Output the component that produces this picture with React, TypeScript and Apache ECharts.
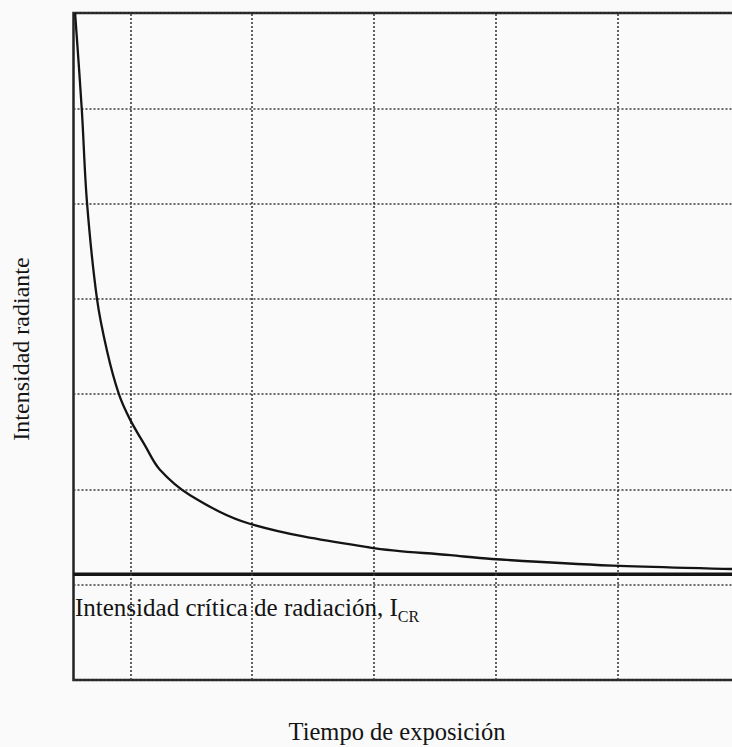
import React, { useEffect, useRef } from "react";
import * as echarts from "echarts";

// Exposure time (in grid units) and radiant intensity (in grid units)
const curveTime = [0.545, 0.6, 0.643, 0.725, 0.81, 0.905, 0.996, 1.12, 1.24, 1.49, 1.98, 2.97, 3.63, 3.97, 4.96, 5.94, 6.0];
const curveIntensity = [7.0, 5.99, 5.01, 4.0, 3.44, 3.0, 2.735, 2.46, 2.21, 1.94, 1.64, 1.39, 1.31, 1.27, 1.2, 1.165, 1.16];
const criticalIntensity = 1.11;
const verticalGridLines = [1, 2, 3, 4, 5];

const xTitle = "Tiempo de exposición";
const yTitle = "Intensidad radiante";
const criticalLabel = "Intensidad crítica de radiación, I";
const criticalSub = "CR";

const X_MIN = 0.532;
const X_MAX = 6.0;
const Y_MIN = 0;
const Y_MAX = 7;

const SERIF = "'Liberation Serif', 'Times New Roman', 'DejaVu Serif', serif";
const INK = "#141414";
const GRID_DOT = { color: "#3a3a3a", width: 1.6, type: [2, 2] as number[] };

export default function App() {
  const ref = useRef<HTMLDivElement>(null);

  useEffect(() => {
    if (!ref.current) return;
    const chart = echarts.init(ref.current, null, { renderer: "svg" });
    const curve = curveTime.map((t, i) => [t, curveIntensity[i]]);

    chart.setOption({
      animation: false,
      backgroundColor: "#fafafa",
      grid: {
        show: true,
        left: 73.5,
        top: 13,
        right: 21,
        bottom: 67,
        borderColor: "#222",
        borderWidth: 2.5,
        backgroundColor: "transparent",
        containLabel: false,
      },
      xAxis: {
        type: "value",
        min: X_MIN,
        max: X_MAX,
        axisLine: { show: false },
        axisTick: { show: false },
        axisLabel: { show: false },
        splitLine: { show: false },
      },
      yAxis: {
        type: "value",
        min: Y_MIN,
        max: Y_MAX,
        interval: 1,
        axisLine: { show: false },
        axisTick: { show: false },
        axisLabel: { show: false },
        splitLine: { show: true, lineStyle: GRID_DOT },
      },
      series: [
        {
          type: "line",
          data: [],
          silent: true,
          markLine: {
            silent: true,
            symbol: "none",
            label: { show: false },
            lineStyle: GRID_DOT,
            data: verticalGridLines.map((v) => ({ xAxis: v })),
          },
        },
        {
          type: "line",
          data: curve,
          showSymbol: false,
          smooth: 0.35,
          lineStyle: { color: INK, width: 2.3 },
          z: 5,
        },
        {
          type: "line",
          data: [
            [X_MIN, criticalIntensity],
            [X_MAX, criticalIntensity],
          ],
          showSymbol: false,
          lineStyle: { color: INK, width: 3.5 },
          z: 4,
        },
      ],
      graphic: [
        {
          type: "text",
          left: 75,
          top: 595,
          style: {
            text: `{a|${criticalLabel}}{b|${criticalSub}}`,
            fill: INK,
            rich: {
              a: { fontSize: 25, fontFamily: SERIF, lineHeight: 34, fill: INK, verticalAlign: "middle" },
              b: { fontSize: 16, fontFamily: SERIF, lineHeight: 18, fill: INK, verticalAlign: "bottom" },
            },
          },
          z: 10,
        },
        {
          type: "text",
          x: 397,
          y: 731,
          style: {
            text: xTitle,
            fontSize: 24.5,
            fontFamily: SERIF,
            fill: INK,
            align: "center",
            verticalAlign: "middle",
          },
        },
        {
          type: "text",
          x: 21,
          y: 349,
          rotation: Math.PI / 2,
          style: {
            text: yTitle,
            fontSize: 24,
            fontFamily: SERIF,
            fill: INK,
            align: "center",
            verticalAlign: "middle",
          },
        },
      ],
    });

    return () => chart.dispose();
  }, []);

  return (
    <div
      style={{
        position: "fixed",
        left: 0,
        top: 0,
        width: 732,
        height: 747,
        overflow: "hidden",
        background: "#fafafa",
      }}
    >
      <div ref={ref} style={{ width: 760, height: 747 }} />
    </div>
  );
}
